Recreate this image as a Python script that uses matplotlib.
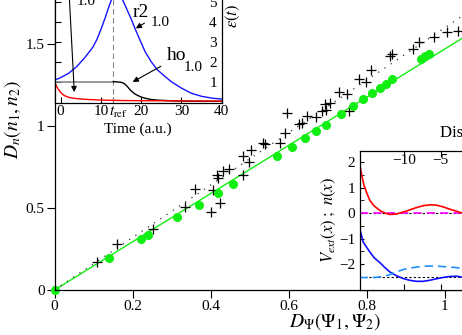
import matplotlib
matplotlib.use("Agg")
import matplotlib.pyplot as plt
from matplotlib.ticker import FormatStrFormatter, MultipleLocator

plt.rcParams['font.family'] = ['Liberation Serif', 'DejaVu Serif']
plt.rcParams['mathtext.fontset'] = 'stix'
plt.rcParams['axes.linewidth'] = 0.9

# --- main panel: D_n versus D_psi ---
cross_x = [0.110, 0.161, 0.253, 0.334, 0.400, 0.360, 0.405, 0.424, 0.417, 0.420,
           0.432, 0.446, 0.482, 0.483, 0.499, 0.502, 0.533, 0.538, 0.577, 0.590,
           0.596, 0.627, 0.633, 0.647, 0.671, 0.684, 0.693, 0.695, 0.706, 0.728,
           0.750, 0.753, 0.779, 0.798, 0.810, 0.859, 0.864, 0.918, 0.934, 0.972,
           1.006, 1.034]
cross_y = [0.171, 0.280, 0.370, 0.504, 0.476, 0.618, 0.610, 0.529, 0.699, 0.683,
           0.724, 0.740, 0.699, 0.817, 0.782, 0.854, 0.898, 0.890, 0.895, 0.959,
           1.081, 1.012, 1.020, 1.061, 1.057, 1.093, 1.134, 1.098, 1.138, 1.207,
           1.195, 1.090, 1.285, 1.268, 1.341, 1.427, 1.437, 1.471, 1.514, 1.543,
           1.576, 1.581]
dot_x = [0.0, 0.140, 0.221, 0.239, 0.313, 0.371, 0.418, 0.458, 0.569, 0.609,
         0.642, 0.670, 0.695, 0.734, 0.765, 0.791, 0.813, 0.833, 0.849, 0.864,
         0.939, 0.949, 0.959]
dot_y = [0.0, 0.197, 0.313, 0.335, 0.443, 0.520, 0.590, 0.646, 0.817, 0.874,
         0.927, 0.971, 1.006, 1.071, 1.122, 1.163, 1.199, 1.230, 1.258, 1.285,
         1.409, 1.424, 1.439]
fit_x = [0.0, 1.1]
slope_green = 1.47
slope_dotted = 1.60

# --- upper inset: eps(t) ---
t_ref = 13.1
t_blue = [-1.5, 0, 2, 4, 6, 8, 9, 10, 11, 12, 13, 13.8, 14.5, 15.5, 16.5, 17.5,
          18.5, 20, 21, 22.5, 24, 26, 27.5, 30, 32.5, 35, 37.5, 40]
e_blue = [1.08, 1.2, 1.42, 1.75, 2.2, 2.72, 3.1, 3.6, 4.15, 4.75, 5.3, 5.6, 5.5,
          5.05, 4.6, 4.15, 3.65, 2.95, 2.5, 2.0, 1.6, 1.25, 1.0, 0.68, 0.42,
          0.27, 0.18, 0.13]
t_ho_flat = [-1.5, t_ref]
e_ho_flat = [1.0, 1.0]
t_ho = [13.1, 14, 15, 15.7, 16.5, 17.3, 18.5, 19.8, 21, 22.5, 24, 27, 30, 35, 40]
e_ho = [1.0, 0.99, 0.97, 0.92, 0.78, 0.58, 0.38, 0.25, 0.17, 0.11, 0.08, 0.05,
        0.03, 0.02, 0.02]
t_red = [-1.5, -1, -0.5, 0, 0.5, 1, 2, 3, 4.2, 6, 8, 10, 15, 20, 30, 40]
e_red = [1.0, 0.78, 0.6, 0.47, 0.37, 0.3, 0.22, 0.18, 0.15, 0.12, 0.1, 0.08,
         0.06, 0.05, 0.04, 0.03]

# --- lower inset: V_ext(x), n(x) ---
x_red = [-16, -15.7, -15.4, -15, -14.6, -14, -13.2, -12.5, -11.9, -11, -10.5,
         -9.5, -8.3, -7.3, -6.3, -5.5, -4.7, -3.8, -2.9, -2.2, -1.5]
v_red = [1.96, 1.5, 1.1, 0.78, 0.5, 0.28, 0.1, 0.0, -0.05, -0.03, 0.01, 0.1,
         0.22, 0.3, 0.33, 0.31, 0.25, 0.16, 0.08, 0.01, -0.03]
x_blue = [-16, -15.5, -15, -14.6, -14, -13.2, -12.5, -11.9, -11, -10.1, -9.2,
          -8.3, -7.4, -6.5, -5.6, -4.7, -3.8, -2.9, -2.2, -1.5]
v_blue = [-0.56, -1.13, -1.35, -1.52, -1.75, -1.95, -2.15, -2.3, -2.45, -2.56,
          -2.63, -2.67, -2.67, -2.63, -2.57, -2.52, -2.48, -2.47, -2.5, -2.53]
x_lb = [-16, -14, -13, -12, -11, -10, -8.7, -7.5, -6.5, -5.3, -4.2, -3, -2.2, -1.5]
n_lb = [-2.52, -2.52, -2.49, -2.42, -2.3, -2.2, -2.13, -2.08, -2.07, -2.08,
        -2.1, -2.13, -2.15, -2.17]
base_red = 0.0
base_blue = -2.5

W, H = 462, 335
green = '#11ee11'


def rect(l, t, r, b):
    return [l / W, 1 - b / H, (r - l) / W, (b - t) / H]


fig = plt.figure(figsize=(W / 100, H / 100), dpi=100)

# main axes (extends past the figure edge on top/right, as in the crop)
ax = fig.add_axes(rect(54.5, -21.6, 484, 290))
ax.plot(fit_x, [slope_green * v for v in fit_x], color=green, lw=1.0)
ax.plot(fit_x, [slope_dotted * v for v in fit_x], color='#333333',
        ls=(0, (1, 5)), lw=0.9)
ax.plot(cross_x, cross_y, '+', color='k', ms=7, mew=0.9, clip_on=False)
ax.plot(dot_x, dot_y, 'o', color=green, mec=green, ms=5.5, clip_on=False)
ax.set_xlim(0, 1.1)
ax.set_ylim(0, 1.9)
ax.set_xticks([0, 0.2, 0.4, 0.6, 0.8, 1.0])
ax.set_yticks([0, 0.5, 1.0, 1.5])
ax.xaxis.set_major_formatter(FormatStrFormatter('%g'))
ax.yaxis.set_major_formatter(FormatStrFormatter('%g'))
ax.tick_params(direction='out', length=6, width=0.8, labelsize=11, pad=1)
ax.spines['top'].set_visible(False)
ax.spines['right'].set_visible(False)
fig.text(13 / W, 1 - 120 / H, r'$D_n(n_1,n_2)$', rotation=90,
         ha='center', va='center', fontsize=14)
fig.text(335 / W, 1 - 322 / H, r'$D_\Psi(\Psi_1,\Psi_2)$',
         ha='center', va='center', fontsize=14)

# upper-left inset
ax1 = fig.add_axes(rect(54.5, -10.3, 221.7, 103.3))
ax1.axvline(t_ref, color='#888888', ls=(0, (5, 3)), lw=0.8)
ax1.plot(t_blue, e_blue, color='#1414ff', lw=1.0)
ax1.plot(t_ho_flat, e_ho_flat, color='#888888', lw=1.2)
ax1.plot(t_ho, e_ho, color='k', lw=1.0)
ax1.plot(t_red, e_red, color='red', lw=1.0)
ax1.set_xlim(-1.5, 40)
ax1.set_ylim(-0.08, 5.6)
ax1.set_xticks([0, 10, t_ref, 20, 30, 40])
ax1.set_xticklabels(['0', '10', '', '20', '30', '40'])
ax1.text(t_ref + 1.3, -0.012, r'$t_{\rm ref}$', fontsize=11, ha='center',
         va='top', transform=ax1.get_xaxis_transform())
ax1.set_yticks([1, 2, 3, 4, 5])
ax1.tick_params(axis='x', direction='in', length=4, pad=1, labelsize=11)
ax1.tick_params(axis='y', direction='in', length=4, left=True, right=False,
                labelleft=False, labelright=True, pad=-9, labelsize=11)
ax1.set_xlabel('Time (a.u.)', fontsize=11, labelpad=3.5)
fig.text(233 / W, 1 - 16 / H, r'$\varepsilon(t)$', rotation=90,
         ha='center', va='center', fontsize=12)

arrow = dict(arrowstyle='-|>', color='k', lw=0.8, mutation_scale=8)
ax1.text(19.8, 4.46, 'r2', fontsize=14, ha='center', va='center')
ax1.text(24.7, 3.96, '1.0', fontsize=11, ha='center', va='center')
ax1.annotate('', xy=(18.1, 3.59), xytext=(21.4, 4.0), arrowprops=arrow)
ax1.text(28.9, 2.29, 'ho', fontsize=14, ha='center', va='center')
ax1.text(33.0, 1.69, '1.0', fontsize=11, ha='center', va='center')
ax1.annotate('', xy=(17.3, 0.92), xytext=(25.5, 1.84), arrowprops=arrow)
ax1.text(6.4, 4.99, '1.0', fontsize=11, ha='center', va='center', clip_on=False)
ax1.annotate('', xy=(3.45, 0.34), xytext=(2.0, 5.9), arrowprops=arrow,
             annotation_clip=False)

# lower-right inset
ax2 = fig.add_axes(rect(359.5, 150.7, 596, 290))
ax2.axhline(base_red, color='k', ls=(0, (2, 2)), lw=0.8)
ax2.axhline(base_red, color='#ff00ff', ls=(0, (5, 3)), lw=1.2)
ax2.axhline(base_blue, color='k', ls=(0, (2, 2)), lw=0.8)
ax2.plot(x_red, v_red, color='red', lw=1.2)
ax2.plot(x_blue, v_blue, color='#1010ff', lw=1.2)
ax2.plot(x_lb, n_lb, color='#1e90ff', ls=(0, (5, 3)), lw=1.2)
ax2.set_xlim(-16, 16)
ax2.set_ylim(-3.01, 2.45)
ax2.set_xticks([-10, -5, 0, 5, 10])
ax2.set_yticks([-2, -1, 0, 1, 2])
ax2.yaxis.set_minor_locator(MultipleLocator(0.5))
ax2.tick_params(axis='x', direction='in', top=True, bottom=True, labeltop=True,
                labelbottom=False, length=4, pad=-12, labelsize=11)
ax2.tick_params(axis='y', which='both', direction='in', length=3, pad=3,
                labelsize=11)
ax2.set_ylabel(r'$V_{ext}(x)\ ;\ n(x)$', fontsize=12, labelpad=1)
fig.text(440 / W, 1 - 133 / H, 'Distance (a.u.)', ha='left', va='center',
         fontsize=12)

fig.savefig('out.png', dpi=100)
